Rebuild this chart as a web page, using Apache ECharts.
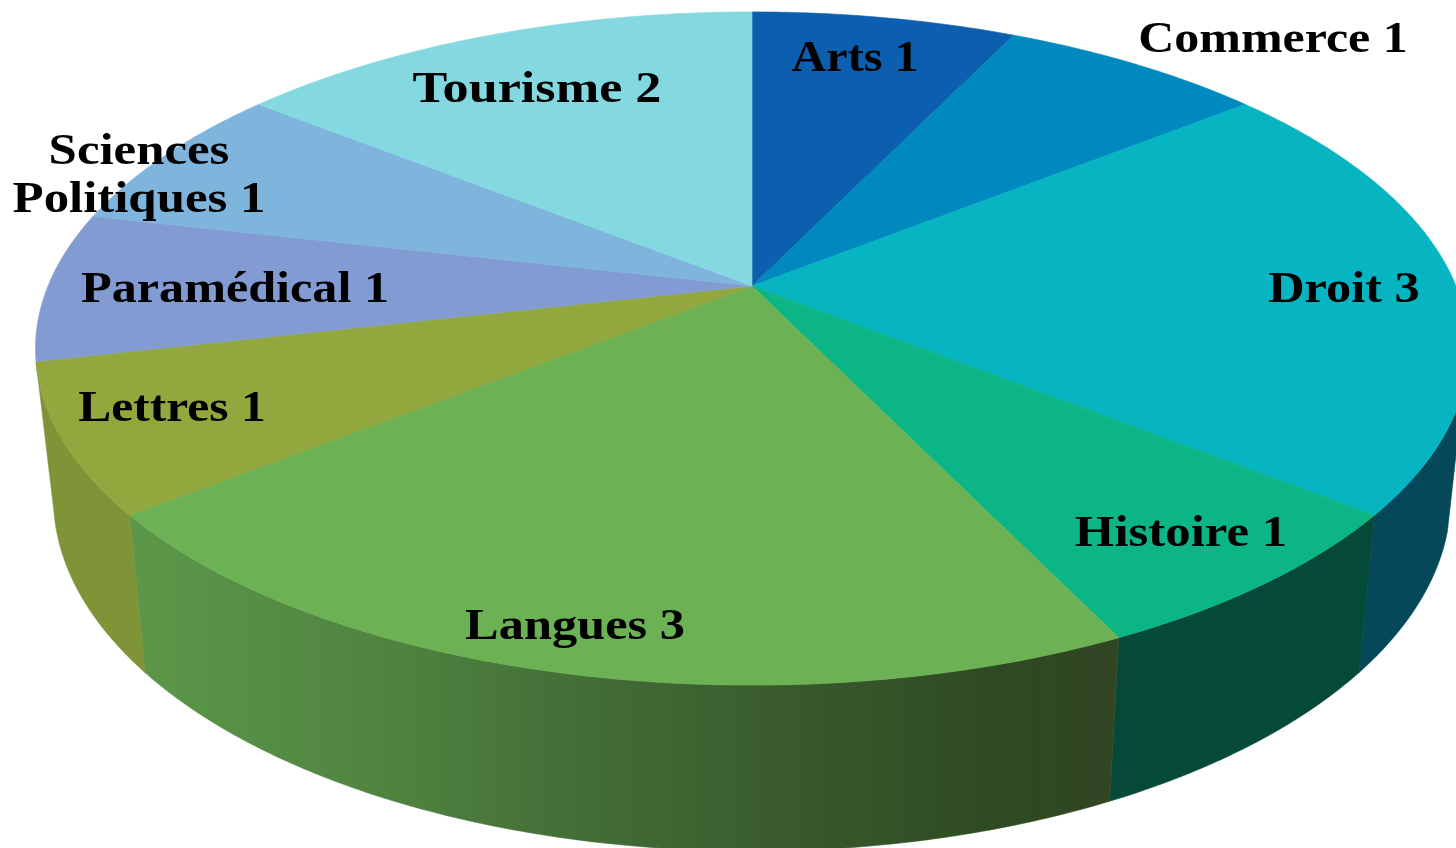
<!DOCTYPE html>
<html><head><meta charset="utf-8">
<style>html,body{margin:0;padding:0;background:#fff}#c{width:1456px;height:848px}</style>
<script src="https://cdn.jsdelivr.net/npm/echarts@6/dist/echarts.min.js"></script>
</head><body><div id="c"></div>
<script>
const categories = ['Arts','Commerce','Droit','Histoire','Langues','Lettres','Paramédical','Sciences\nPolitiques','Tourisme'];
const values = [1,1,3,1,3,1,1,1,2];
const topColors = ['#0b5fae','#0089bf','#07b5c2','#0cb585','#6cb255','#92a83f','#829bd2','#7fb4dd','#84d9e0'];
const sideColors = ['#063a6a','#00526f','#04485a','#054a38',null,'#7f9436','#4e5d7e','#4c6c85','#4f8286'];

// label centres in page pixels, kept apart from the data
const labelCentres = [[855,59],[1273,40],[1344,290],[1181,534],[575,627],[172,409],[235,290],[139,176],[537,90]];
const labelStretch = [1.07,1.11,1.12,1.13,1.12,1.10,1.115,1.13,1.16];

// perspective view of the disc
const view = {cx:752, cy:286, a:704, b:325, p:0.1857, bottomScaleX:0.975, bottomCy:432, bottomScaleY:1.05};
const deg = Math.PI/180;
// silhouette of the wall: where the extrusion edge leaves the top and bottom rims
const wallLimits = {topFrom:100*deg, bottomFrom:106*deg, to:257*deg};
const total = values.reduce((s,v)=>s+v,0);
const starts = []; values.reduce((s,v,i)=>{starts[i]=s;return s+v;},0);

function topPt(t){
  const d = 1+view.p*Math.cos(t);
  return [view.cx+view.a*Math.sin(t)/d, view.cy-view.b*Math.cos(t)/d];
}
function botPt(t){
  const d = 1+view.p*Math.cos(t);
  return [view.cx+view.bottomScaleX*view.a*Math.sin(t)/d, view.bottomCy-view.bottomScaleY*view.b*Math.cos(t)/d];
}
function range(i,val){
  const s = starts[i]/total*Math.PI*2;
  return [s, s+val/total*Math.PI*2];
}
function arc(fn,a,b){
  const pts=[], n=Math.max(2,Math.ceil((b-a)/0.01));
  for(let k=0;k<=n;k++) pts.push(fn(a+(b-a)*k/n));
  return pts;
}
const langGrad = new echarts.graphic.LinearGradient(131,0,1118,0,[
  {offset:0,color:'#5c9849'},{offset:0.27,color:'#4f823f'},{offset:0.47,color:'#426c36'},
  {offset:0.67,color:'#395a2c'},{offset:0.88,color:'#2e4a22'},{offset:1,color:'#324524'}],true);

const chart = echarts.init(document.getElementById('c'),null,{renderer:'canvas'});
const seriesData = values.map((v,i)=>({name:categories[i],value:v}));
chart.setOption({
  animation:false,
  backgroundColor:'#ffffff',
  series:[
    {type:'custom',coordinateSystem:'none',silent:true,z:1,data:seriesData,
     renderItem(params,api){
       const i=params.dataIndex, r=range(i,api.value(0));
       const hi=Math.min(r[1],wallLimits.to);
       const loT=Math.max(r[0],wallLimits.topFrom), loB=Math.max(r[0],wallLimits.bottomFrom);
       if(hi<=loT) return {type:'group',children:[]};
       const fill = sideColors[i] || langGrad;
       const pts = arc(topPt,loT,hi).concat(arc(botPt,loB,hi).reverse());
       return {type:'polygon',shape:{points:pts},style:{fill:fill,stroke:fill,lineWidth:0.6}};
     }},
    {type:'custom',coordinateSystem:'none',silent:true,z:2,data:seriesData,
     renderItem(params,api){
       const i=params.dataIndex, r=range(i,api.value(0));
       const pts=[[view.cx,view.cy]].concat(arc(topPt,r[0],r[1]));
       return {type:'polygon',shape:{points:pts},style:{fill:topColors[i],stroke:topColors[i],lineWidth:0.6}};
     }},
    {type:'custom',coordinateSystem:'none',silent:true,z:3,data:seriesData,
     renderItem(params,api){
       const i=params.dataIndex, c=labelCentres[i];
       return {type:'text',x:c[0],y:c[1],scaleX:labelStretch[i],style:{
         text:categories[i]+' '+api.value(0),
         fill:'#000',align:'center',verticalAlign:'middle',
         font:'bold 45px "Liberation Serif"',lineHeight:48}};
     }}
  ]
});
</script></body></html>
